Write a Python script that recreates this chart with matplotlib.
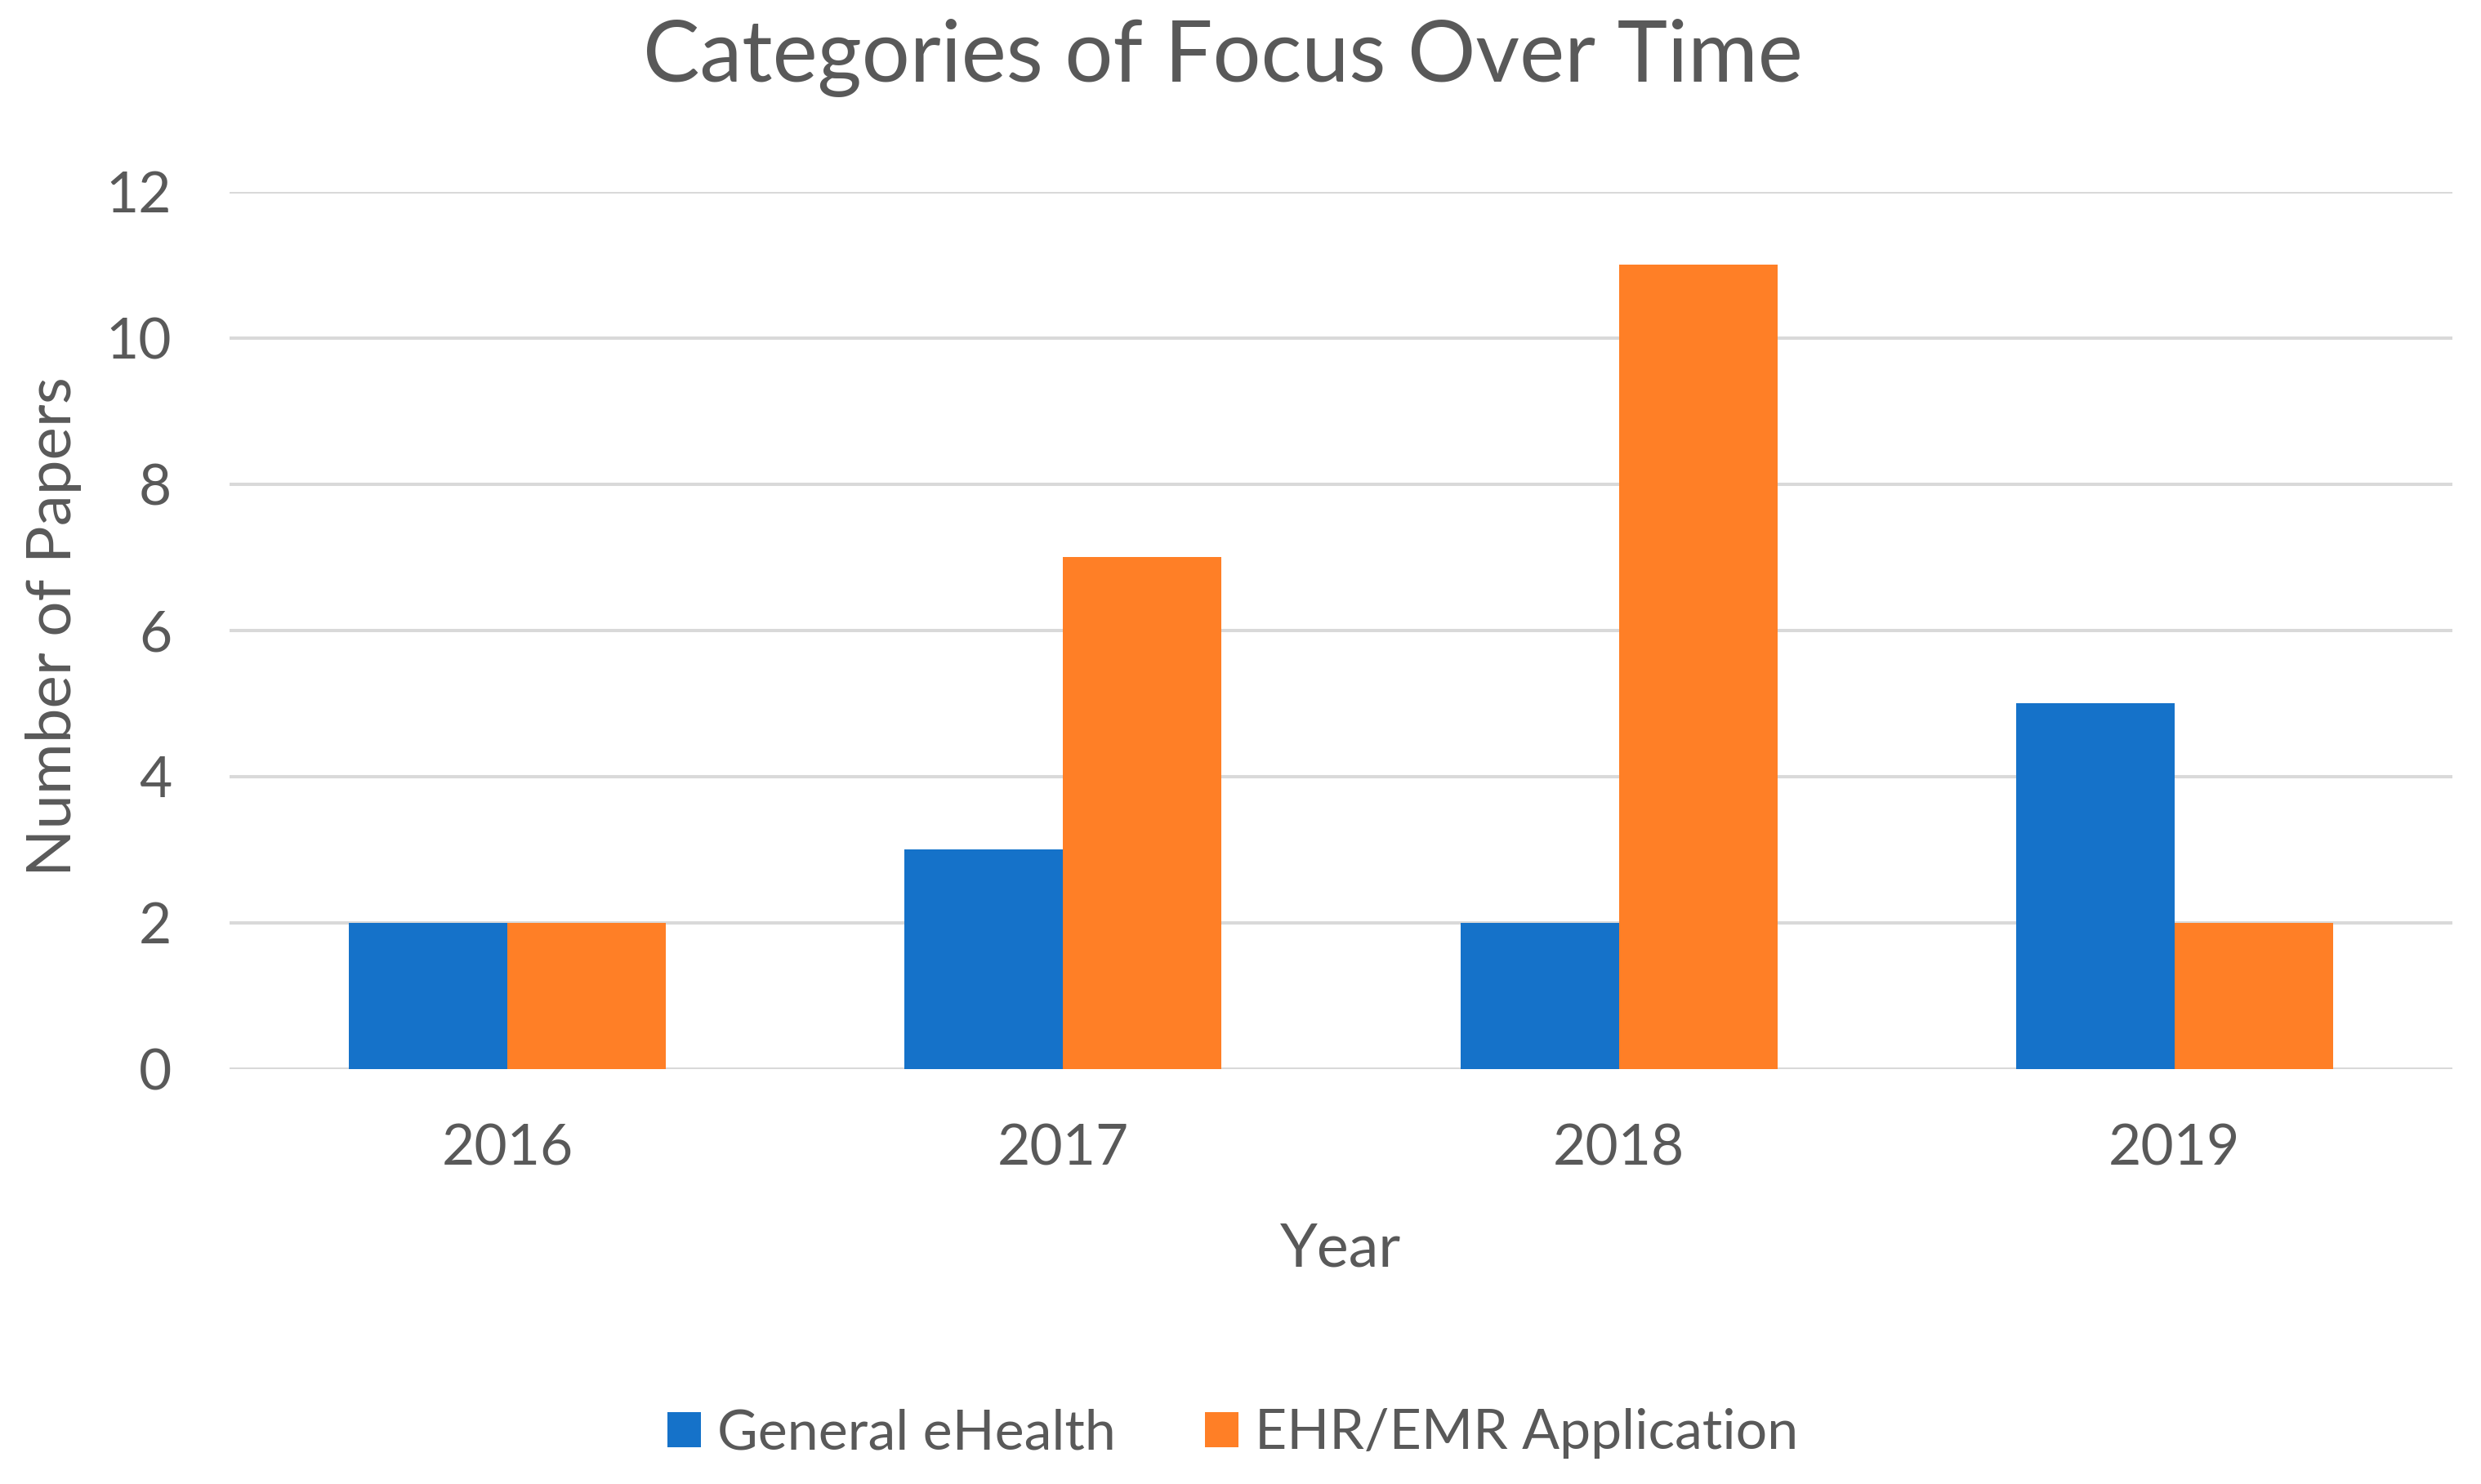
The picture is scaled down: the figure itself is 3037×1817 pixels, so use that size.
import numpy as np
import matplotlib
matplotlib.use("Agg")
import matplotlib.pyplot as plt

# ---- DATA ----
YEARS = ["2016", "2017", "2018", "2019"]
GENERAL_EHEALTH = [2, 3, 2, 5]
EHR_EMR_APP = [2, 7, 11, 2]

BLUE = "#1572C9"
ORANGE = "#FF7F26"
TEXT = "#595959"
GRID = "#D9D9D9"

plt.rcParams["font.family"] = ["Lato", "DejaVu Sans"]

# ---- PLOT ----
fig = plt.figure(figsize=(30.37, 18.17), dpi=100)
ax = fig.add_axes([0.0925, 0.2796, 0.896, 0.5911])

x = np.arange(len(YEARS))
w = 0.285
ax.bar(x - w / 2, GENERAL_EHEALTH, w, color=BLUE, label="General eHealth", zorder=3)
ax.bar(x + w / 2, EHR_EMR_APP, w, color=ORANGE, label="EHR/EMR Application", zorder=3)

ax.set_xlim(-0.5, len(YEARS) - 0.5)
ax.set_ylim(0, 12)
ax.set_yticks(range(0, 13, 2))
ax.set_xticks(x)
ax.set_xticklabels(YEARS)
ax.yaxis.grid(True, color=GRID, linewidth=2.9, zorder=0)
for s in ax.spines.values():
    s.set_visible(False)
ax.axhline(0, color=GRID, linewidth=2.9, zorder=2)
ax.tick_params(axis="both", length=0, labelsize=50, labelcolor=TEXT)
ax.tick_params(axis="y", pad=51)
ax.tick_params(axis="x", pad=48)

ax.set_xlabel("Year", fontsize=53, color=TEXT)
ax.xaxis.set_label_coords(0.5, -0.175)
ax.set_ylabel("Number of Papers", fontsize=55, color=TEXT)
ax.yaxis.set_label_coords(-0.0665, 0.505)

fig.text(0.493, 1 - 100 / 1817, "Categories of Focus Over Time", fontsize=75,
         color=TEXT, ha="center", va="baseline")

fig.legend(loc="center", bbox_to_anchor=(0.497, 0.034), ncol=2, frameon=False,
           fontsize=49, labelcolor=TEXT, handlelength=0.6, handleheight=0.6,
           handletextpad=0.3, columnspacing=1.6)

plt.savefig("out.png", dpi=100)
